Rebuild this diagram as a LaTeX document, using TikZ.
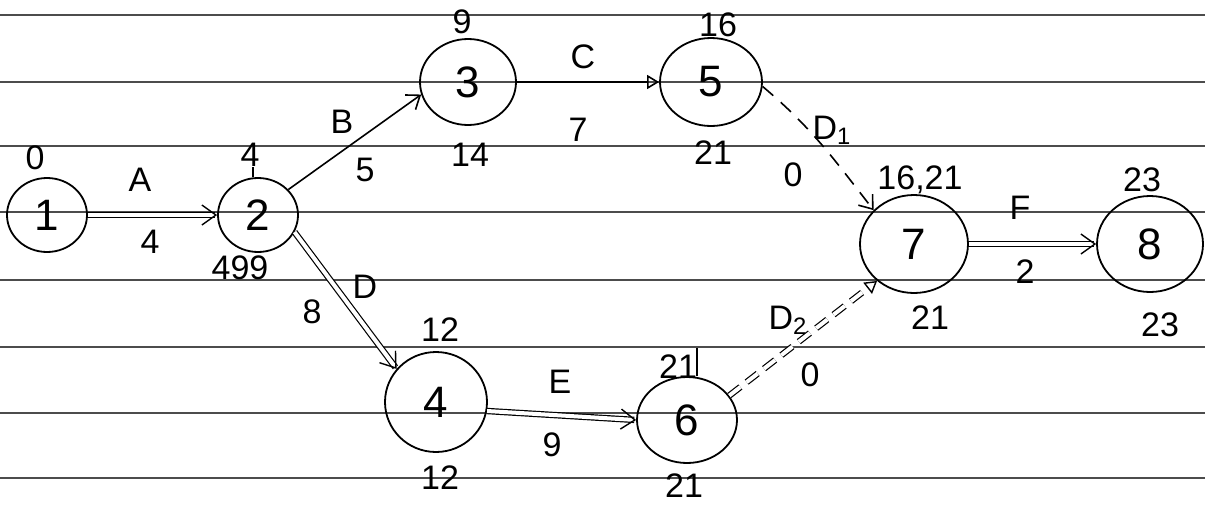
\documentclass[tikz,border=0pt]{standalone}
\usepackage{fontspec}
\setmainfont{Liberation Sans}
\usetikzlibrary{shapes.geometric,arrows.meta}
\begin{document}
\begin{tikzpicture}[x=0.5pt,y=-0.5pt,
  ev/.style={ellipse,draw,line width=0.9pt,inner sep=0pt,font=\fontsize{22}{24}\selectfont},
  lab/.style={font=\fontsize{17}{19}\selectfont,inner sep=0pt},
  act/.style={line width=0.8pt,-{Straight Barb[length=6pt,width=9pt,line width=0.8pt]}},
  actt/.style={line width=0.8pt,-{Triangle[open,length=6pt,width=7pt,line width=0.8pt]}},
  crit/.style={double,double distance=2pt,line width=0.6pt,-{Straight Barb[length=7pt,width=10pt,line width=0.7pt]}},
  dummy/.style={dashed,dash pattern=on 7pt off 5pt,line width=0.8pt,-{Straight Barb[length=6pt,width=9pt,line width=0.8pt]}},
  cdummy/.style={double,double distance=2pt,line width=0.6pt,dash pattern=on 7pt off 4pt,-{Triangle[open,length=6pt,width=7pt,line width=0.7pt]}},
  rule/.style={black!70,line width=0.9pt},
  tick/.style={line width=0.8pt}]
\useasboundingbox[fill=white] (0,0) rectangle (1205,504);
% ruled paper
\foreach \yy in {15,82,146,212,280,347,413,478}
  \draw[rule] (0,\yy) -- (1205,\yy);
% events
\node[ev,minimum width=40pt,minimum height=37pt] (n1) at (47,215) {1};
\node[ev,minimum width=40pt,minimum height=37pt] (n2) at (258,215) {2};
\node[ev,minimum width=48pt,minimum height=43pt] (n3) at (468,82) {3};
\node[ev,minimum width=51pt,minimum height=44pt] (n5) at (711,82) {5};
\node[ev,minimum width=51pt,minimum height=50pt] (n4) at (436,402) {4};
\node[ev,minimum width=50pt,minimum height=43pt] (n6) at (687,420) {6};
\node[ev,minimum width=54pt,minimum height=49pt] (n7) at (914,244) {7};
\node[ev,minimum width=53pt,minimum height=48pt] (n8) at (1150,244) {8};
% activities
\draw[crit] (n1) -- (n2);
\draw[act] (n2.40) -- (n3.195);
\draw[crit] (n2.-25) -- (n4.140);
\draw[actt] (n3.east) -- (n5.west);
\draw[crit] (n4.-10) -- (n6.west);
\draw[dummy] (n5.-5) to[out=-40,in=128] (n7.140);
\draw[cdummy] (n6.30) -- (n7.225);
\draw[crit] (n7.east) -- (n8.west);
% small pen ticks
\coordinate (t2) at (253,167);
\draw[tick] (t2) -- (n2.north -| t2);
\coordinate (t6) at (697,348);
\draw[tick] (t6) -- (n6.north -| t6);
% labels
\node[lab] (l1a) at (35,158) {0};
\node[lab] (lA) at (140,180) {A};
\node[lab] (lA4) at (150,242) {4};
\node[lab] (l2a) at (250,155) {4};
\node[lab] (l2b) at (240,268) {499};
\node[lab] (lB) at (342,122) {B};
\node[lab] (lB5) at (365,170) {5};
\node[lab] (l3a) at (462,22) {9};
\node[lab] (l3b) at (470,155) {14};
\node[lab] (lC) at (583,57) {C};
\node[lab] (lC7) at (578,130) {7};
\node[lab] (l5a) at (718,25) {16};
\node[lab] (l5b) at (713,153) {21};
\node[lab] (lD1) at (832,130) {D\textsubscript{1}};
\node[lab] (lD10) at (793,175) {0};
\node[lab] (l7a) at (920,180) {16,21};
\node[lab] (l7b) at (930,318) {21};
\node[lab] (lF) at (1020,208) {F};
\node[lab] (lF2) at (1025,272) {2};
\node[lab] (l8a) at (1142,180) {23};
\node[lab] (l8b) at (1160,325) {23};
\node[lab] (lD) at (365,287) {D};
\node[lab] (lD8) at (312,312) {8};
\node[lab] (l4a) at (440,330) {12};
\node[lab] (l4b) at (440,478) {12};
\node[lab] (lE) at (560,382) {E};
\node[lab] (lE9) at (552,445) {9};
\node[lab] (l6a) at (678,367) {21};
\node[lab] (l6b) at (684,486) {21};
\node[lab] (lD2) at (788,320) {D\textsubscript{2}};
\node[lab] (lD20) at (810,375) {0};
\end{tikzpicture}
\end{document}
